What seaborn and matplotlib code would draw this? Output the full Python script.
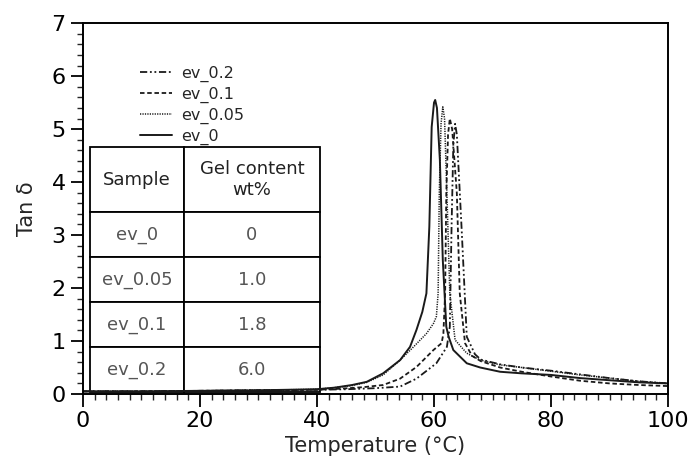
import matplotlib
matplotlib.use("Agg")
import matplotlib.pyplot as plt
import seaborn as sns
from matplotlib.ticker import MultipleLocator

# tan delta curves
t_ev0 = [0, 10, 20, 30, 40, 43, 46, 48.5, 51.3, 54.2, 55.9, 57.0, 58.0, 58.7, 59.2, 59.6, 60.0,
         60.2, 60.5, 61.0, 61.5, 62.1, 62.5, 63.3, 65.6, 67.9, 71.3, 75, 80, 85, 90, 95, 100]
v_ev0 = [0.05, 0.05, 0.06, 0.07, 0.09, 0.12, 0.17, 0.23, 0.39, 0.64, 0.89, 1.21, 1.55, 1.9, 3.16, 5.04, 5.5,
         5.55, 5.4, 4.42, 2.53, 1.27, 1.08, 0.83, 0.58, 0.50, 0.42, 0.39, 0.36, 0.30, 0.26, 0.22, 0.20]

t_ev005 = [0, 10, 20, 30, 40, 43, 46, 48.5, 51.3, 54.2, 56.5, 58.7, 59.9, 60.4, 60.7, 60.9, 61.2,
           61.5, 61.8, 62.2, 62.7, 63.6, 65.6, 67.9, 71.3, 75, 80, 85, 90, 95, 100]
v_ev005 = [0.05, 0.05, 0.06, 0.07, 0.09, 0.12, 0.16, 0.22, 0.36, 0.64, 0.89, 1.14, 1.33, 1.46, 1.9, 3.79, 5.1,
           5.42, 5.2, 3.79, 1.9, 1.02, 0.77, 0.64, 0.55, 0.50, 0.43, 0.36, 0.30, 0.24, 0.20]

t_ev01 = [0, 10, 20, 30, 40, 44, 48, 51.3, 54.2, 57.0, 59.9, 61.3, 61.6, 61.9, 62.1, 62.4, 62.7,
          63.1, 63.9, 64.4, 65.3, 66.5, 68, 71.3, 75, 80, 85, 90, 95, 100]
v_ev01 = [0.05, 0.05, 0.06, 0.07, 0.08, 0.10, 0.13, 0.17, 0.29, 0.51, 0.83, 0.96, 1.14, 1.9, 3.79, 4.9, 5.2,
          5.0, 3.79, 1.9, 0.96, 0.72, 0.62, 0.50, 0.42, 0.33, 0.25, 0.20, 0.17, 0.15]

t_ev02 = [0, 10, 20, 30, 40, 45, 50, 54.2, 57.0, 60.4, 62.2, 62.7, 63.0, 63.3, 63.6, 63.9, 64.7,
          65.6, 67, 68, 71.3, 75, 80, 85, 90, 95, 100]
v_ev02 = [0.05, 0.05, 0.06, 0.07, 0.08, 0.09, 0.11, 0.14, 0.29, 0.58, 0.89, 1.27, 3.16, 4.7, 5.1, 4.9, 3.16,
          1.08, 0.75, 0.65, 0.56, 0.50, 0.44, 0.37, 0.30, 0.24, 0.20]

samples = ["ev_0", "ev_0.05", "ev_0.1", "ev_0.2"]
gel_content = ["0", "1.0", "1.8", "6.0"]

sns.set_style("ticks")
plt.rcParams["font.family"] = ["DejaVu Sans"]

fig = plt.figure(figsize=(6.88, 4.63), dpi=100)
ax = fig.add_axes([0.1206, 0.149, 0.8504, 0.801])

ink = "#1a1a1a"
sns.lineplot(x=t_ev02, y=v_ev02, ax=ax, color=ink, lw=1.3, label="ev_0.2",
             linestyle=(0, (4, 1.5, 1, 1.5, 1, 1.5)), sort=False)
sns.lineplot(x=t_ev01, y=v_ev01, ax=ax, color=ink, lw=1.3, label="ev_0.1",
             linestyle=(0, (2.5, 1.5)), sort=False)
sns.lineplot(x=t_ev005, y=v_ev005, ax=ax, color=ink, lw=1.1, label="ev_0.05",
             linestyle=(0, (0.8, 0.8)), sort=False)
sns.lineplot(x=t_ev0, y=v_ev0, ax=ax, color=ink, lw=1.4, label="ev_0",
             linestyle="-", sort=False)

ax.set_xlim(0, 100)
ax.set_ylim(0, 7)
ax.xaxis.set_major_locator(MultipleLocator(20))
ax.xaxis.set_minor_locator(MultipleLocator(2))
ax.yaxis.set_major_locator(MultipleLocator(1))
ax.yaxis.set_minor_locator(MultipleLocator(0.2))
ax.tick_params(which="major", length=9, width=1.3, labelsize=16, colors="black", direction="out")
ax.tick_params(which="minor", length=4, width=1.0, direction="out")
for s in ax.spines.values():
    s.set_linewidth(1.4)
    s.set_color("black")

ax.set_xlabel("Temperature (°C)", fontsize=15, labelpad=3)
ax.set_ylabel("Tan δ", fontsize=15, labelpad=10)

leg = ax.legend(loc="upper left", bbox_to_anchor=(0.097, 0.885), frameon=False,
                fontsize=11.5, handlelength=2.0, handletextpad=0.6, labelspacing=0.3,
                borderpad=0, borderaxespad=0)

# gel content table inside the axes
cell_text = [[s, g] for s, g in zip(samples, gel_content)]
tbl = ax.table(cellText=cell_text, colLabels=["Sample", "Gel content\nwt%"],
               cellLoc="center", bbox=[0.012, 0.005, 0.393, 0.661])
tbl.auto_set_font_size(False)
tbl.set_fontsize(13)
for (r, c), cell in tbl.get_celld().items():
    cell.set_height(65 if r == 0 else 45)
    cell.set_width(94 if c == 0 else 136)
    cell.set_linewidth(1.3)
    cell.set_edgecolor("black")
    cell.set_facecolor("white")
    cell.get_text().set_color("#555555" if r > 0 else "#222222")

fig.savefig("out.png", dpi=100)
